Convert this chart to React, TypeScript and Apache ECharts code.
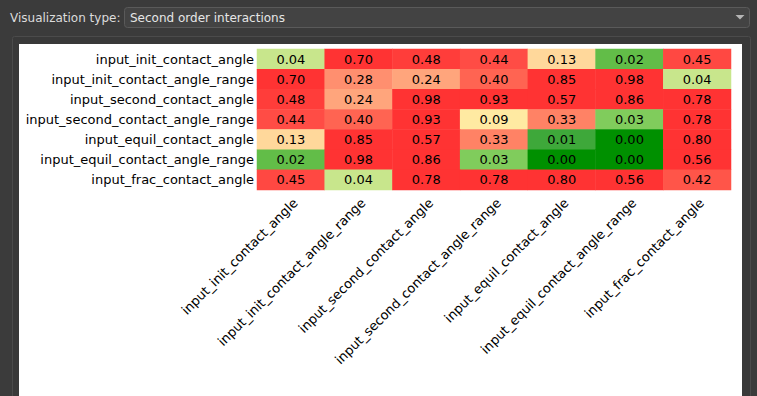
import React, { useEffect, useRef } from "react";
import * as echarts from "echarts";

const variables = [
  "input_init_contact_angle",
  "input_init_contact_angle_range",
  "input_second_contact_angle",
  "input_second_contact_angle_range",
  "input_equil_contact_angle",
  "input_equil_contact_angle_range",
  "input_frac_contact_angle",
];

const row0 = [0.04, 0.7, 0.48, 0.44, 0.13, 0.02, 0.45];
const row1 = [0.7, 0.28, 0.24, 0.4, 0.85, 0.98, 0.04];
const row2 = [0.48, 0.24, 0.98, 0.93, 0.57, 0.86, 0.78];
const row3 = [0.44, 0.4, 0.93, 0.09, 0.33, 0.03, 0.78];
const row4 = [0.13, 0.85, 0.57, 0.33, 0.01, 0.0, 0.8];
const row5 = [0.02, 0.98, 0.86, 0.03, 0.0, 0.0, 0.56];
const row6 = [0.45, 0.04, 0.78, 0.78, 0.8, 0.56, 0.42];
const rows = [row0, row1, row2, row3, row4, row5, row6];

// colormap stops (value -> colour)
const colorStops: [number, string][] = [
  [0.0, "#009000"],
  [0.01, "#3ea83a"],
  [0.02, "#62bd48"],
  [0.03, "#80cc5c"],
  [0.04, "#c8e68c"],
  [0.09, "#ffeaa2"],
  [0.13, "#ffd89b"],
  [0.24, "#ffa57c"],
  [0.28, "#ff8f6f"],
  [0.33, "#ff8265"],
  [0.4, "#ff6452"],
  [0.42, "#ff5549"],
  [0.44, "#ff4c45"],
  [0.48, "#ff3d3a"],
  [0.56, "#ff3333"],
  [1.0, "#ff3333"],
];

function hexToRgb(h: string) {
  const n = parseInt(h.slice(1), 16);
  return [(n >> 16) & 255, (n >> 8) & 255, n & 255];
}
function colorFor(v: number) {
  for (let i = 0; i < colorStops.length - 1; i++) {
    const [a, ca] = colorStops[i];
    const [b, cb] = colorStops[i + 1];
    if (v >= a && v <= b) {
      const t = b === a ? 0 : (v - a) / (b - a);
      const A = hexToRgb(ca);
      const B = hexToRgb(cb);
      const c = A.map((x, k) => Math.round(x + (B[k] - x) * t));
      return `rgb(${c[0]},${c[1]},${c[2]})`;
    }
  }
  return colorStops[colorStops.length - 1][1];
}

const FONT = "DejaVu Sans";

export default function App() {
  const ref = useRef<HTMLDivElement>(null);
  useEffect(() => {
    if (!ref.current) return;
    const chart = echarts.init(ref.current, undefined, { renderer: "svg" });
    const data: any[] = [];
    const uniq: number[] = [];
    rows.forEach((r, yi) =>
      r.forEach((v, xi) => {
        data.push([xi, yi, v]);
        if (uniq.indexOf(v) < 0) uniq.push(v);
      })
    );
    const pieces = uniq.map((v) => ({ value: v, color: colorFor(v) }));
    chart.setOption({
      animation: false,
      backgroundColor: "#3b3b3b",
      textStyle: { fontFamily: FONT },
      visualMap: {
        type: "piecewise",
        show: false,
        dimension: 2,
        pieces,
        outOfRange: { color: "#ff3333" },
      },
      graphic: [
        {
          type: "rect",
          z: -10,
          shape: { x: 124.5, y: 7.5, width: 625, height: 20, r: 3 },
          style: { fill: "#434343", stroke: "#5a5a5a", lineWidth: 1 },
        },
        {
          type: "text",
          z: -9,
          x: 10,
          y: 17.5,
          style: {
            text: "Visualization type:",
            fill: "#dcdcdc",
            font: `12px "${FONT}"`,
            verticalAlign: "middle",
          },
        },
        {
          type: "text",
          z: -9,
          x: 130,
          y: 17.5,
          style: {
            text: "Second order interactions",
            fill: "#e6e6e6",
            font: `12px "${FONT}"`,
            verticalAlign: "middle",
          },
        },
        {
          type: "polygon",
          z: -9,
          shape: { points: [[735.5, 15], [744.5, 15], [740, 19.5]] },
          style: { fill: "#b4b4b4" },
        },
        {
          type: "rect",
          z: -10,
          shape: { x: 12.5, y: 36.5, width: 738, height: 420, r: 2 },
          style: { fill: "#393939", stroke: "#4b4b4b", lineWidth: 1 },
        },
        {
          type: "rect",
          z: -9,
          shape: { x: 19, y: 44, width: 723, height: 360 },
          style: { fill: "#ffffff" },
        },
      ],
      grid: { left: 257, right: 26, top: 49, height: 141, containLabel: false },
      xAxis: {
        type: "category",
        data: variables,
        axisLine: { show: false },
        axisTick: { show: false },
        splitArea: { show: false },
        axisLabel: {
          rotate: 45,
          interval: 0,
          margin: 6,
          align: "right",
          verticalAlign: "top",
          color: "#000",
          fontSize: 13,
          fontFamily: FONT,
        },
      },
      yAxis: {
        type: "category",
        data: variables,
        inverse: true,
        axisLine: { show: false },
        axisTick: { show: false },
        splitArea: { show: false },
        axisLabel: {
          interval: 0,
          margin: 3,
          color: "#000",
          fontSize: 13,
          fontFamily: FONT,
        },
      },
      series: [
        {
          type: "heatmap",
          data,
          label: {
            show: true,
            color: "#000",
            fontSize: 13,
            fontFamily: FONT,
            formatter: (p: any) => p.value[2].toFixed(2),
          },
          itemStyle: { borderWidth: 0 },
          emphasis: { disabled: true },
        },
      ],
    });
    return () => chart.dispose();
  }, []);
  return (
    <div
      ref={ref}
      style={{ position: "fixed", left: 0, top: 0, width: 757, height: 396 }}
    />
  );
}
